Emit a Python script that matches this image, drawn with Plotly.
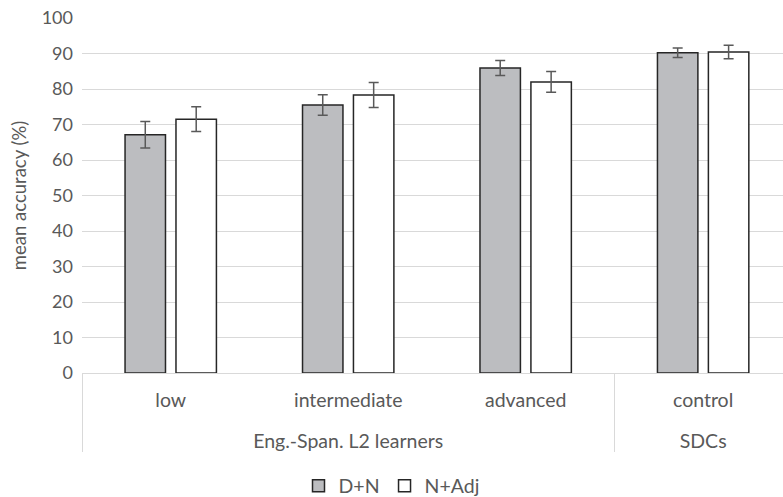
import plotly.graph_objects as go

# Participant groups and proficiency levels
groups = ["Eng.-Span. L2 learners", "Eng.-Span. L2 learners", "Eng.-Span. L2 learners", "SDCs"]
levels = ["low", "intermediate", "advanced", "control"]

# Mean accuracy (%) and error-bar half-widths per structure
dn_mean = [67.1, 75.5, 85.9, 90.2]
dn_err = [3.75, 2.9, 2.1, 1.35]
nadj_mean = [71.5, 78.3, 82.0, 90.4]
nadj_err = [3.5, 3.5, 2.9, 1.9]

FONT = "Lato"
TXT = "#595959"
EDGE = "#262626"
ERR = "#595959"
GRID = "#d9d9d9"

# Outer-level labels get a blank leading line so they sit below the level labels
x_cats = [["\u00a0<br>" + g for g in groups], levels]

fig = go.Figure()
fig.add_trace(go.Bar(
    name="D+N", x=x_cats, y=dn_mean,
    marker=dict(color="#bcbdc0", line=dict(color=EDGE, width=1.5)),
    error_y=dict(type="data", array=dn_err, color=ERR, thickness=1.5, width=5),
))
fig.add_trace(go.Bar(
    name="N+Adj", x=x_cats, y=nadj_mean,
    marker=dict(color="#ffffff", line=dict(color=EDGE, width=1.5)),
    error_y=dict(type="data", array=nadj_err, color=ERR, thickness=1.5, width=5),
))

fig.update_layout(
    width=783, height=497,
    margin=dict(l=82, r=0, t=18, b=124, autoexpand=False),
    paper_bgcolor="white", plot_bgcolor="white",
    font=dict(family=FONT, size=18, color=TXT),
    barmode="group", bargap=0.426, bargroupgap=0.206,
    showlegend=True,
    legend=dict(orientation="h", x=0.5, xref="container", xanchor="center",
                y=0.022, yref="container", yanchor="middle",
                font=dict(size=19.5, color=TXT), itemwidth=30, tracegroupgap=0),
    xaxis=dict(
        type="multicategory", range=[-0.5, 3.45],
        showgrid=False, showline=True, linecolor=GRID, linewidth=1,
        showdividers=True, dividercolor=GRID, dividerwidth=1,
        tickfont=dict(family=FONT, size=19.5, color=TXT), ticks="",
        ticklabelstandoff=10,
    ),
    yaxis=dict(
        range=[0, 100], dtick=10, showgrid=True, gridcolor=GRID, gridwidth=1,
        zeroline=True, zerolinecolor=GRID, zerolinewidth=1, showline=False,
        ticks="", ticklabelstandoff=8,
        tickfont=dict(family=FONT, size=18, color=TXT),
        title=dict(text="mean accuracy (%)", font=dict(family=FONT, size=18.5, color=TXT), standoff=10),
    ),
)

fig.write_html("out.html")
